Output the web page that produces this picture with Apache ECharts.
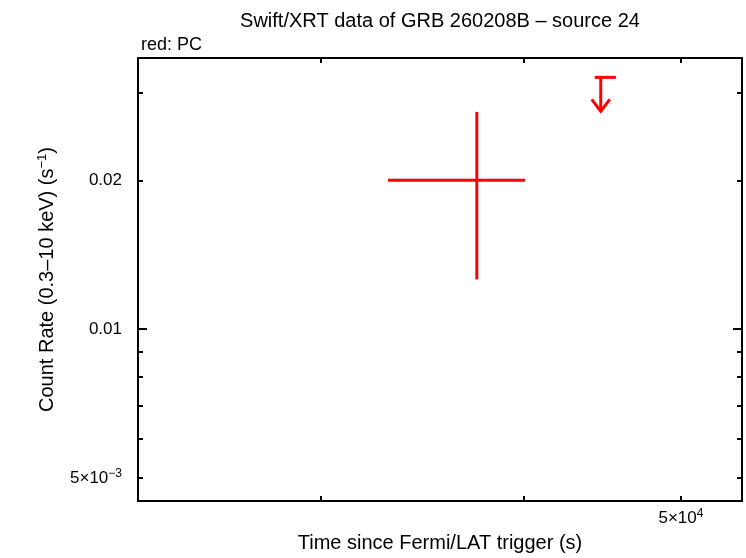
<!DOCTYPE html>
<html>
<head>
<meta charset="utf-8">
<script src="https://cdn.jsdelivr.net/npm/echarts@6/dist/echarts.min.js"></script>
<style>html,body{margin:0;padding:0;background:#fff}#c{width:746px;height:558px}</style>
</head>
<body>
<div id="c"></div>
<script>
// PC mode detection (time in s, rate in counts/s)
const pcTime   = [37420];
const pcTimeLo = [32990];
const pcTimeHi = [40070];
const pcRate   = [0.0200];
const pcRateLo = [0.0126];
const pcRateHi = [0.0275];
// PC mode upper limit
const ulTime   = [44620];
const ulTimeLo = [44240];
const ulTimeHi = [45590];
const ulRate   = [0.0323];
// axis ranges and ticks
const xRange = [23130, 54530];
const yRange = [0.00449, 0.03535];
const xTicks = [30000, 40000, 50000];
const xLabels = [50000];
const yMajorTicks = [0.01];
const yMinorTicks = [0.005, 0.006, 0.007, 0.008, 0.009, 0.02, 0.03];
const yLabels = [0.005, 0.01, 0.02];

const FONT = '"Liberation Sans", Arial, Helvetica, sans-serif';
const RED = '#ff0000';

const chart = echarts.init(document.getElementById('c'), null, {renderer: 'canvas'});

function fmtX(v) {
  if (Math.abs(v - 50000) < 1) return '5×10{sup|4}';
  return '';
}
function fmtY(v) {
  if (Math.abs(v - 0.005) < 1e-6) return '5×10{sup|−3}';
  if (Math.abs(v - 0.01) < 1e-6) return '0.01';
  if (Math.abs(v - 0.02) < 1e-6) return '0.02';
  return '';
}
const rich = {
  sup: {fontSize: 12, verticalAlign: 'top', padding: [0, 0, 9, 0], fontFamily: FONT, color: '#000'}
};
const axisLine = {show: true, onZero: false, lineStyle: {color: '#000', width: 2}};

function xAx(pos, showLabel) {
  return {
    type: 'log', logBase: 10, min: xRange[0], max: xRange[1], position: pos,
    axisLine: axisLine,
    splitLine: {show: false},
    axisTick: {show: true, inside: true, length: 5, customValues: xTicks, lineStyle: {color: '#000', width: 2}},
    axisLabel: showLabel ? {show: true, customValues: xLabels, formatter: fmtX, margin: 7,
      fontFamily: FONT, fontSize: 17, color: '#000', rich: rich} : {show: false},
    name: showLabel ? 'Time since Fermi/LAT trigger (s)' : '',
    nameLocation: 'middle', nameGap: 32,
    nameTextStyle: {fontFamily: FONT, fontSize: 20, color: '#000'}
  };
}
function yAx(pos, ticks, len, showLabel, name) {
  return {
    type: 'log', logBase: 10, min: yRange[0], max: yRange[1], position: pos,
    axisLine: axisLine,
    splitLine: {show: false},
    axisTick: {show: true, inside: true, length: len, customValues: ticks, lineStyle: {color: '#000', width: 2}},
    axisLabel: showLabel ? {show: true, customValues: yLabels, formatter: fmtY, margin: 16,
      fontFamily: FONT, fontSize: 17, color: '#000', rich: rich} : {show: false},
    name: name || '',
    nameLocation: 'middle', nameGap: 79, nameRotate: 90,
    nameTextStyle: {fontFamily: FONT, fontSize: 20, color: '#000', rich: {sup: {fontSize: 13, padding: [0,0,10,0], fontFamily: FONT, color: '#000'}}}
  };
}

function errRender(params, api) {
  const x = api.value(0), xl = api.value(1), xh = api.value(2);
  const y = api.value(3), yl = api.value(4), yh = api.value(5);
  const pL = api.coord([xl, y]), pR = api.coord([xh, y]);
  const pT = api.coord([x, yh]), pB = api.coord([x, yl]);
  const st = {stroke: RED, lineWidth: 3};
  return {type: 'group', children: [
    {type: 'line', shape: {x1: pL[0], y1: pL[1], x2: pR[0], y2: pR[1]}, style: st},
    {type: 'line', shape: {x1: pT[0], y1: pT[1], x2: pB[0], y2: pB[1]}, style: st}
  ]};
}
function ulRender(params, api) {
  const x = api.value(0), xl = api.value(1), xh = api.value(2), y = api.value(3);
  const pL = api.coord([xl, y]), pR = api.coord([xh, y]), pC = api.coord([x, y]);
  const st = {stroke: RED, lineWidth: 3};
  const L = 34, hw = 9, hh = 12;
  return {type: 'group', children: [
    {type: 'line', shape: {x1: pL[0], y1: pL[1], x2: pR[0], y2: pR[1]}, style: st},
    {type: 'line', shape: {x1: pC[0], y1: pC[1], x2: pC[0], y2: pC[1] + L}, style: st},
    {type: 'polyline', shape: {points: [[pC[0] - hw, pC[1] + L - hh], [pC[0], pC[1] + L], [pC[0] + hw, pC[1] + L - hh]]}, style: {stroke: RED, lineWidth: 3, fill: null}}
  ]};
}

const pcData = pcTime.map((t, i) => [t, pcTimeLo[i], pcTimeHi[i], pcRate[i], pcRateLo[i], pcRateHi[i]]);
const ulData = ulTime.map((t, i) => [t, ulTimeLo[i], ulTimeHi[i], ulRate[i]]);

chart.setOption({
  animation: false,
  backgroundColor: '#fff',
  title: [
    {text: 'Swift/XRT data of GRB 260208B – source 24', left: 435, top: 6, textAlign: 'center',
      textStyle: {fontFamily: FONT, fontSize: 20, fontWeight: 'normal', color: '#000'}},
    {text: 'red: PC', left: 136, top: 31,
      textStyle: {fontFamily: FONT, fontSize: 18, fontWeight: 'normal', color: '#000'}}
  ],
  grid: {left: 138, right: 4, top: 58, bottom: 51, containLabel: false},
  xAxis: [xAx('bottom', true), xAx('top', false)],
  yAxis: [
    yAx('left', yMinorTicks, 5, true, 'Count Rate (0.3–10 keV) (s{sup|−1})'),
    yAx('left', yMajorTicks, 9, false),
    yAx('right', yMinorTicks, 5, false),
    yAx('right', yMajorTicks, 9, false)
  ],
  series: [
    {type: 'custom', name: 'PC', xAxisIndex: 0, yAxisIndex: 0, renderItem: errRender,
      encode: {x: 0, y: 3}, data: pcData, clip: true},
    {type: 'custom', name: 'PC UL', xAxisIndex: 0, yAxisIndex: 0, renderItem: ulRender,
      encode: {x: 0, y: 3}, data: ulData, clip: true}
  ]
});
</script>
</body>
</html>
